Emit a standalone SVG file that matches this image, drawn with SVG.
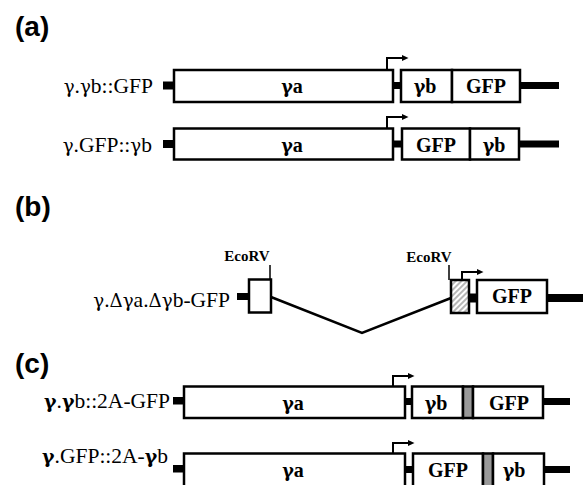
<svg xmlns="http://www.w3.org/2000/svg" width="583" height="485" viewBox="0 0 583 485">
<style>
.box{fill:#fff;stroke:#000;stroke-width:2.5}
.gray{fill:#999;stroke:#000;stroke-width:2.5}
.hatch{fill:url(#hatch);stroke:#000;stroke-width:2.5}
.blk{fill:#000}
.prom{fill:none;stroke:#000;stroke-width:2}
.line{fill:none;stroke:#000;stroke-width:2.5}
.tick{fill:none;stroke:#000;stroke-width:1.5}
.panel{font-family:"Liberation Sans",Arial,sans-serif;font-weight:bold;font-size:28px;fill:#000}
.lab{font-family:"Liberation Serif","Times New Roman",serif;font-size:21.5px;fill:#000;text-anchor:end}
.in{font-family:"Liberation Serif","Times New Roman",serif;font-weight:bold;font-size:20px;fill:#000;text-anchor:middle}
.eco{font-family:"Liberation Serif","Times New Roman",serif;font-weight:bold;font-size:15px;fill:#000;text-anchor:middle}
.gk{font-family:"DejaVu Serif",serif;font-size:0.85em}
.gb{font-family:"DejaVu Serif",serif;font-size:0.88em;font-weight:bold}
</style>
<defs>
<marker id="ah" markerUnits="userSpaceOnUse" markerWidth="7" markerHeight="7" refX="0" refY="3" orient="auto">
<path d="M0,0 L6.5,3 L0,6 z" fill="#000"/>
</marker>
<pattern id="hatch" patternUnits="userSpaceOnUse" width="4" height="4" patternTransform="rotate(45)">
<rect width="4" height="4" fill="#fff"/>
<line x1="1" y1="0" x2="1" y2="4" stroke="#888" stroke-width="1.2"/>
</pattern>
</defs>

<g id="panel-labels">
<text class="panel" x="15" y="36">(a)</text>
<text class="panel" x="15" y="216">(b)</text>
<text class="panel" x="15" y="373">(c)</text>
</g>

<g id="a1">
<text class="lab" x="153" y="93"><tspan class="gk">γ</tspan>.<tspan class="gk">γ</tspan>b::GFP</text>
<rect class="blk" x="163" y="81.5" width="11" height="8"/>
<rect class="box" x="174" y="70" width="219" height="32"/>
<text class="in" x="292" y="93"><tspan class="gb">γ</tspan>a</text>
<rect class="blk" x="393" y="82" width="8" height="7"/>
<path class="prom" d="M387,69 V58 H402" marker-end="url(#ah)"/>
<rect class="box" x="401" y="70" width="51" height="32"/>
<text class="in" x="425" y="93"><tspan class="gb">γ</tspan>b</text>
<rect class="box" x="452" y="70" width="68" height="32"/>
<text class="in" x="486" y="93">GFP</text>
<rect class="blk" x="520" y="82" width="39" height="7"/>
</g>

<g id="a2">
<text class="lab" x="152" y="152"><tspan class="gk">γ</tspan>.GFP::<tspan class="gk">γ</tspan>b</text>
<rect class="blk" x="163" y="140" width="11" height="8"/>
<rect class="box" x="174" y="128.5" width="219" height="31"/>
<text class="in" x="292" y="152"><tspan class="gb">γ</tspan>a</text>
<rect class="blk" x="393" y="140.5" width="9" height="7"/>
<path class="prom" d="M387,128 V117 H402" marker-end="url(#ah)"/>
<rect class="box" x="402" y="128.5" width="68" height="31"/>
<text class="in" x="436" y="152">GFP</text>
<rect class="box" x="470" y="128.5" width="49" height="31"/>
<text class="in" x="494" y="152"><tspan class="gb">γ</tspan>b</text>
<rect class="blk" x="519" y="140.5" width="40" height="7"/>
</g>

<g id="b1">
<text class="lab" x="230" y="307"><tspan class="gk">γ</tspan>.<tspan class="gk">Δγ</tspan>a.<tspan class="gk">Δγ</tspan>b-GFP</text>
<rect class="blk" x="237" y="293" width="12" height="7"/>
<rect class="box" x="249" y="279.5" width="22" height="33"/>
<text class="eco" x="247" y="261">EcoRV</text>
<line class="tick" x1="270" y1="265" x2="270" y2="279"/>
<rect class="hatch" x="451" y="280" width="18" height="33"/>
<text class="eco" x="429" y="262">EcoRV</text>
<line class="tick" x1="449" y1="265" x2="449" y2="280"/>
<path class="prom" d="M462,280 V272 H477" marker-end="url(#ah)"/>
<rect class="blk" x="469" y="293.5" width="8" height="9"/>
<rect class="box" x="477" y="280" width="70" height="33"/>
<text class="in" x="512" y="303">GFP</text>
<rect class="blk" x="547" y="294" width="36" height="8"/>
</g>

<g id="connectors">
<path class="line" d="M271,297 L362,333 L451,298"/>
</g>

<g id="c1">
<text class="lab" x="170" y="408"><tspan class="gb">γ</tspan>.<tspan class="gb">γ</tspan>b::2A-GFP</text>
<rect class="blk" x="173" y="397" width="11" height="7.5"/>
<rect class="box" x="184" y="386.5" width="221" height="31.5"/>
<text class="in" x="293" y="410"><tspan class="gb">γ</tspan>a</text>
<rect class="blk" x="405" y="398" width="7" height="7"/>
<path class="prom" d="M393,386 V376 H408" marker-end="url(#ah)"/>
<rect class="box" x="412" y="386.5" width="51" height="31.5"/>
<text class="in" x="436" y="410"><tspan class="gb">γ</tspan>b</text>
<rect class="gray" x="463" y="386.5" width="10" height="31.5"/>
<rect class="box" x="473" y="386.5" width="70" height="31.5"/>
<text class="in" x="509" y="410">GFP</text>
<rect class="blk" x="543" y="398" width="27" height="7"/>
</g>

<g id="c2">
<text class="lab" x="168" y="463"><tspan class="gb">γ</tspan>.GFP::2A-<tspan class="gb">γ</tspan>b</text>
<rect class="blk" x="173" y="465" width="11" height="7.5"/>
<rect class="box" x="184" y="453.5" width="221" height="33"/>
<text class="in" x="293" y="477"><tspan class="gb">γ</tspan>a</text>
<rect class="blk" x="405" y="466" width="8" height="7"/>
<path class="prom" d="M393,453 V443 H408" marker-end="url(#ah)"/>
<rect class="box" x="413" y="453.5" width="70" height="33"/>
<text class="in" x="448" y="477">GFP</text>
<rect class="gray" x="483" y="453.5" width="10" height="33"/>
<rect class="box" x="493" y="453.5" width="51" height="33"/>
<text class="in" x="514" y="477"><tspan class="gb">γ</tspan>b</text>
<rect class="blk" x="544" y="466" width="26" height="7"/>
</g>
</svg>
